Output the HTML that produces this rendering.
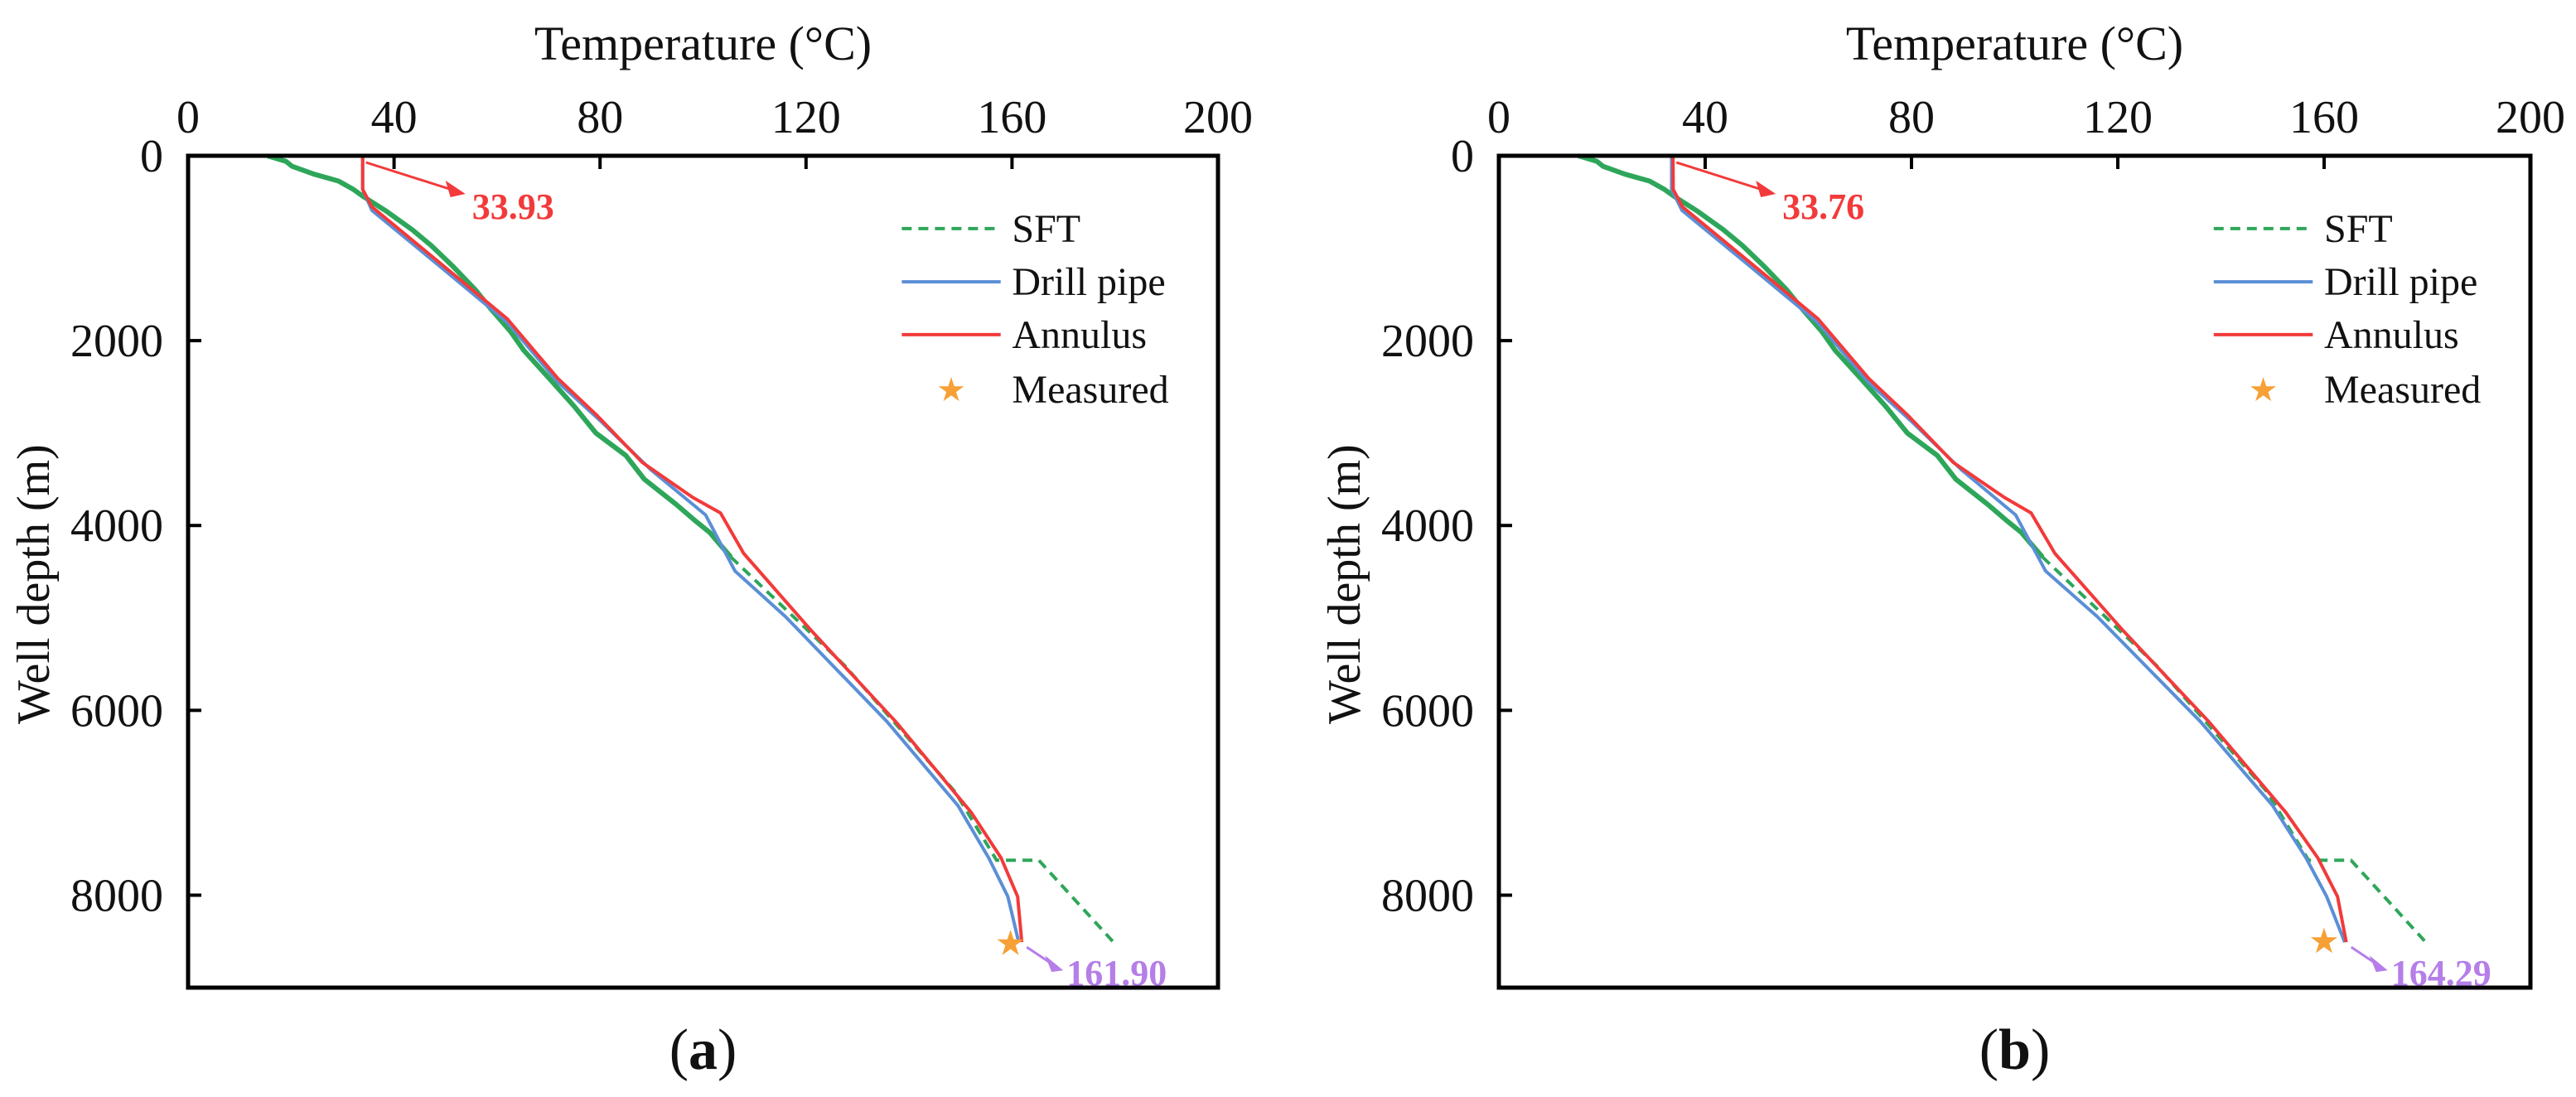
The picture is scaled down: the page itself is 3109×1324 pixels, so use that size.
<!DOCTYPE html>
<html>
<head>
<meta charset="utf-8">
<style>
html,body{margin:0;padding:0;background:#fff;}
svg{display:block;font-family:"Liberation Serif",serif;}
</style>
</head>
<body>
<svg id="fig" width="3109" height="1324" viewBox="0 0 3109 1324" xmlns="http://www.w3.org/2000/svg"></svg>
<script>
// ---- shared axis ticks ----
const xTicks = [0, 40, 80, 120, 160, 200];
const yTicks = [0, 2000, 4000, 6000, 8000];

// ---- panel (a) data ----
const sftMeasDepthA = [0, 60, 114, 200, 273, 360, 440, 600, 800, 970, 1200, 1450, 1650, 1900, 2106, 2400, 2712, 3000, 3242, 3500, 3773, 3950, 4076, 4200, 4341];
const sftMeasTempA  = [15.4, 19.0, 20.2, 24.5, 29.2, 32.0, 34.0, 38.5, 43.5, 47.2, 51.5, 55.8, 58.7, 62.6, 65.2, 70.0, 75.0, 79.2, 85.0, 88.6, 94.8, 98.5, 101.3, 103.2, 105.4];
const sftDepthA = [4341, 5515, 6879, 7621, 7621, 8508];
const sftTempA  = [105.4, 127.5, 148.9, 157.0, 165.2, 179.7];
const pipeDepthA = [0, 364, 591, 1197, 1803, 2447, 2864, 3394, 3886, 4492, 4985, 6121, 7030, 7598, 8015, 8508];
const pipeTempA  = [33.9, 33.9, 35.7, 48.9, 62.0, 71.8, 80.0, 89.8, 100.5, 106.2, 116.0, 135.7, 149.5, 155.5, 159.2, 161.3];
const annDepthA = [0, 364, 553, 1159, 1765, 2409, 2803, 3318, 3697, 3864, 4303, 5136, 6121, 7106, 7598, 8015, 8508];
const annTempA  = [33.9, 33.9, 35.7, 48.9, 62.0, 71.8, 79.3, 88.2, 98.0, 103.4, 107.9, 121.0, 137.4, 152.1, 157.9, 161.1, 161.9];
const measuredA = [159.7, 8520];
const topLabelA = "33.93";
const botLabelA = "161.90";

// ---- panel (b) data ----
const sftMeasDepthB = sftMeasDepthA;
const sftMeasTempB  = sftMeasTempA;
const sftDepthB = [4341, 5515, 6879, 7621, 7621, 8508];
const sftTempB  = [105.4, 127.5, 148.9, 157.0, 165.2, 179.7];
const pipeDepthB = [0, 364, 591, 1197, 1803, 2447, 2864, 3394, 3886, 4492, 4985, 6121, 7030, 7598, 8015, 8508];
const pipeTempB  = [33.5, 33.5, 35.5, 48.7, 61.8, 71.6, 79.8, 89.6, 100.2, 106.0, 116.0, 136.0, 150.0, 156.5, 160.5, 164.0];
const annDepthB = [0, 364, 553, 1159, 1765, 2409, 2803, 3318, 3697, 3864, 4303, 5136, 6121, 7106, 7598, 8015, 8508];
const annTempB  = [33.76, 33.8, 35.6, 48.8, 61.9, 71.7, 79.2, 88.1, 98.0, 103.2, 107.8, 121.0, 137.6, 152.6, 158.8, 162.6, 164.29];
const measuredB = [160.0, 8500];
const topLabelB = "33.76";
const botLabelB = "164.29";

const NS = "http://www.w3.org/2000/svg";
const svg = document.getElementById('fig');
function mk(tag, attrs, parent){
  const e = document.createElementNS(NS, tag);
  for (const k in attrs) e.setAttribute(k, attrs[k]);
  (parent||svg).appendChild(e);
  return e;
}

function panel(L, T, R, B, d, letter){
  const g = mk('g', {});
  
  
  const xs = v => L + (v - 0) / 200 * (R - L);
  const ys = v => T + v / 9000 * (B - T);
  const cx = (L + R) / 2;

  const xt = mk('text', {x: cx, y: 72, 'font-size': 58, 'text-anchor': 'middle', fill: '#111'}, g);
  xt.textContent = 'Temperature (\u00B0C)';
  
  
  const ytx = L - 168, yty = 705;
  const yt = mk('text', {x: ytx, y: yty, 'font-size': 56, 'text-anchor': 'middle', fill: '#111', transform: `rotate(-90 ${ytx} ${yty})`}, g);
  yt.textContent = 'Well depth (m)';
  
  

  xTicks.forEach(v => {
    const t = mk('text', {x: xs(v), y: 160, 'font-size': 56, 'text-anchor': 'middle', fill: '#111'}, g);
    t.textContent = v;
    
    
    if (v > 0 && v < 200) {
      const tk = mk('line', {x1: xs(v), x2: xs(v), y1: T, y2: T + 16, stroke: '#000', 'stroke-width': 4}, g);
      
      
    }
  });
  yTicks.forEach(v => {
    const t = mk('text', {x: L - 30, y: ys(v) + 19, 'font-size': 56, 'text-anchor': 'end', fill: '#111'}, g);
    t.textContent = v;
    
    
    if (v > 0) {
      const tk = mk('line', {x1: L, x2: L + 16, y1: ys(v), y2: ys(v), stroke: '#000', 'stroke-width': 4}, g);
      
      
    }
  });

  const pts = (tv, dv) => tv.map((t, i) => xs(t).toFixed(1) + ',' + ys(dv[i]).toFixed(1)).join(' ');

  const s1 = mk('polyline', {points: pts(d.smT, d.smD), fill: 'none', stroke: '#2ea65a', 'stroke-width': 6, 'stroke-linejoin': 'round'}, g);
  
  
  const s2 = mk('polyline', {points: pts(d.sT, d.sD), fill: 'none', stroke: '#2ea65a', 'stroke-width': 4, 'stroke-dasharray': '12 8'}, g);
  
  
  const p = mk('polyline', {points: pts(d.pT, d.pD), fill: 'none', stroke: '#5b8fd6', 'stroke-width': 4, 'stroke-linejoin': 'round'}, g);
  
  
  const a = mk('polyline', {points: pts(d.aT, d.aD), fill: 'none', stroke: '#f23a3a', 'stroke-width': 4, 'stroke-linejoin': 'round'}, g);
  
  

  const st = mk('text', {x: xs(d.m[0]), y: ys(d.m[1]) + 14, 'font-size': 42, 'text-anchor': 'middle', fill: '#f7a035', 'font-family': 'DejaVu Sans, sans-serif'}, g);
  st.textContent = '\u2605';
  
  

  const ax0 = xs(d.aT[0]) + 4, ay0 = ys(0) + 8, ax1 = ax0 + 120, ay1 = ay0 + 38;
  const ar = mk('line', {x1: ax0, y1: ay0, x2: ax1 - 10, y2: ay1 - 3, stroke: '#f23a3a', 'stroke-width': 3}, g);
  
  
  const ah = mk('polygon', {points: `${ax1},${ay1} ${ax1-24},${ay1-16} ${ax1-18},${ay1+4}`, fill: '#f23a3a'}, g);
  
  
  const tl = mk('text', {x: ax1 + 8, y: ay1 + 30, 'font-size': 44, 'font-weight': 'bold', fill: '#f23a3a'}, g);
  tl.textContent = d.topLabel;
  
  

  const bx0 = xs(d.aT[d.aT.length - 1]) + 6, by0 = ys(8508) + 6, bx1 = bx0 + 44, by1 = by0 + 28;
  const br = mk('line', {x1: bx0, y1: by0, x2: bx1 - 8, y2: by1 - 4, stroke: '#b57ee8', 'stroke-width': 3}, g);
  
  
  const bh = mk('polygon', {points: `${bx1},${by1} ${bx1-22},${by1-18} ${bx1-14},${by1+2}`, fill: '#b57ee8'}, g);
  
  
  const bl = mk('text', {x: bx1 + 4, y: by1 + 18, 'font-size': 44, 'font-weight': 'bold', fill: '#b57ee8'}, g);
  bl.textContent = d.botLabel;
  
  

  const W = R - L, H = B - T;
  const lx0 = L + 0.693 * W, lx1 = L + 0.789 * W, tx = L + 0.8 * W;
  const rows = [0.0875, 0.1515, 0.215, 0.281].map(f => T + f * H);
  const names = ['SFT', 'Drill pipe', 'Annulus', 'Measured'];
  const lg = mk('g', {}, g);
  
  
  const l1 = mk('line', {x1: lx0, x2: lx1, y1: rows[0], y2: rows[0], stroke: '#2ea65a', 'stroke-width': 4, 'stroke-dasharray': '12 8'}, lg);
  
  
  const l2 = mk('line', {x1: lx0, x2: lx1, y1: rows[1], y2: rows[1], stroke: '#5b8fd6', 'stroke-width': 4}, lg);
  
  
  const l3 = mk('line', {x1: lx0, x2: lx1, y1: rows[2], y2: rows[2], stroke: '#f23a3a', 'stroke-width': 4}, lg);
  
  
  const l4 = mk('text', {x: (lx0 + lx1) / 2, y: rows[3] + 14, 'font-size': 40, 'text-anchor': 'middle', fill: '#f7a035', 'font-family': 'DejaVu Sans, sans-serif'}, lg);
  l4.textContent = '\u2605';
  
  
  names.forEach((n, i) => {
    const t = mk('text', {x: tx, y: rows[i] + 16, 'font-size': 48, fill: '#111'}, lg);
    t.textContent = n;
    
    
  });

  const fr = mk('rect', {x: L, y: T, width: R - L, height: B - T, fill: 'none', stroke: '#000', 'stroke-width': 5}, g);
  
  

  const pl = mk('text', {x: cx, y: 1290, 'font-size': 70, 'text-anchor': 'middle', fill: '#111'}, g);
  pl.innerHTML = '(<tspan font-weight="bold">' + letter + '</tspan>)';
  
  
}

panel(227, 188, 1470, 1192, {
  smT: sftMeasTempA, smD: sftMeasDepthA, sT: sftTempA, sD: sftDepthA,
  pT: pipeTempA, pD: pipeDepthA, aT: annTempA, aD: annDepthA,
  m: measuredA, topLabel: topLabelA, botLabel: botLabelA
}, 'a');
panel(1809, 188, 3054, 1192, {
  smT: sftMeasTempB, smD: sftMeasDepthB, sT: sftTempB, sD: sftDepthB,
  pT: pipeTempB, pD: pipeDepthB, aT: annTempB, aD: annDepthB,
  m: measuredB, topLabel: topLabelB, botLabel: botLabelB
}, 'b');
</script>
</body>
</html>
